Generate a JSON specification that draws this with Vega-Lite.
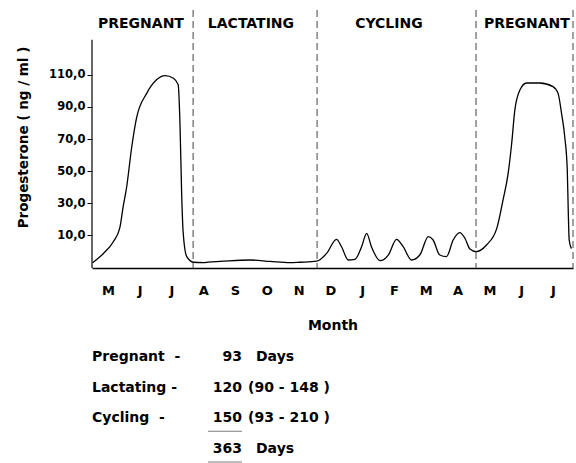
{
  "$schema": "https://vega.github.io/schema/vega-lite/v6.json",
  "width": 481,
  "height": 258,
  "autosize": {"type": "none"},
  "padding": {"left": 92, "top": 10, "right": 3, "bottom": 195},
  "background": "white",
  "config": {"view": {"stroke": null}, "font": "DejaVu Sans", "axisX": {"labelOverlap": false}},
  "datasets": {
    "curve": [
      {"t": 0.02, "v": -7.3}, {"t": 0.36, "v": -1.5}, {"t": 0.67, "v": 5.8}, {"t": 0.88, "v": 15},
      {"t": 0.98, "v": 27.7}, {"t": 1.09, "v": 40}, {"t": 1.25, "v": 65}, {"t": 1.4, "v": 83},
      {"t": 1.72, "v": 98.5}, {"t": 2.03, "v": 107}, {"t": 2.3, "v": 109.6}, {"t": 2.56, "v": 108},
      {"t": 2.71, "v": 104}, {"t": 2.77, "v": 77.7}, {"t": 2.82, "v": 36}, {"t": 2.87, "v": 11},
      {"t": 2.98, "v": -3.5}, {"t": 3.19, "v": -7}, {"t": 3.5, "v": -7.3}, {"t": 3.66, "v": -6.9},
      {"t": 4.03, "v": -6.5}, {"t": 4.97, "v": -5.6}, {"t": 5.6, "v": -6.5}, {"t": 6.23, "v": -7.3},
      {"t": 6.54, "v": -7.0}, {"t": 7.07, "v": -6.3}, {"t": 7.38, "v": -1.5}, {"t": 7.69, "v": 7.3},
      {"t": 7.85, "v": 2.7}, {"t": 8.06, "v": -5.6}, {"t": 8.27, "v": -5.2}, {"t": 8.48, "v": 2.7},
      {"t": 8.64, "v": 11}, {"t": 8.79, "v": 2.7}, {"t": 9.06, "v": -6}, {"t": 9.32, "v": -2.5},
      {"t": 9.58, "v": 7.3}, {"t": 9.79, "v": 2.7}, {"t": 10.05, "v": -5.6}, {"t": 10.31, "v": -2.5},
      {"t": 10.58, "v": 9}, {"t": 10.73, "v": 6.9}, {"t": 10.94, "v": -2.5}, {"t": 11.15, "v": -3.5},
      {"t": 11.36, "v": 6.9}, {"t": 11.57, "v": 11.5}, {"t": 11.73, "v": 8}, {"t": 11.89, "v": 1.2},
      {"t": 12.08, "v": -0.4}, {"t": 12.41, "v": 3.8}, {"t": 12.73, "v": 14}, {"t": 12.93, "v": 32},
      {"t": 13.09, "v": 48.5}, {"t": 13.2, "v": 67}, {"t": 13.3, "v": 88}, {"t": 13.46, "v": 100.6},
      {"t": 13.67, "v": 105}, {"t": 14.09, "v": 105}, {"t": 14.5, "v": 102.7}, {"t": 14.66, "v": 98.5},
      {"t": 14.77, "v": 86}, {"t": 14.87, "v": 71.4}, {"t": 14.95, "v": 50.6}, {"t": 14.98, "v": 25.6},
      {"t": 15.01, "v": 6.9}, {"t": 15.08, "v": 1.5}
    ],
    "phases": [
      {"phase": "PREGNANT", "end": 3.18, "mid": 1.54},
      {"phase": "LACTATING", "end": 7.08, "mid": 5.0},
      {"phase": "CYCLING", "end": 12.08, "mid": 9.34},
      {"phase": "PREGNANT", "end": 15.13, "mid": 13.68}
    ],
    "summary": [
      {"row": "Pregnant", "label": "Pregnant\u00a0 -", "value": "93", "note": "Days", "noteKind": "unit", "underline": false},
      {"row": "Lactating", "label": "Lactating -", "value": "120", "note": "(90 - 148 )", "noteKind": "range", "underline": false},
      {"row": "Cycling", "label": "Cycling\u00a0 -", "value": "150", "note": "(93 - 210 )", "noteKind": "range", "underline": true},
      {"row": "Total", "label": "", "value": "363", "note": "Days", "noteKind": "unit", "underline": true}
    ]
  },
  "layer": [
    {
      "layer": [
        {
          "data": {"name": "curve"},
          "mark": {"type": "line", "color": "black", "strokeWidth": 1.3, "interpolate": "monotone"},
          "encoding": {
            "x": {
              "field": "t", "type": "quantitative",
              "scale": {"domain": [0, 15.13], "nice": false, "zero": false},
              "axis": {
                "values": [0.5, 1.5, 2.5, 3.5, 4.5, 5.5, 6.5, 7.5, 8.5, 9.5, 10.5, 11.5, 12.5, 13.5, 14.5],
                "tickCount": 30,
                "labelExpr": "['M','J','J','A','S','O','N','D','J','F','M','A','M','J','J'][floor(datum.value)]",
                "labelOverlap": false,
                "ticks": false, "grid": false, "domain": true, "domainColor": "black", "domainWidth": 1.3,
                "labelFontSize": 13, "labelFontWeight": "bold", "labelColor": "black", "labelPadding": 16,
                "title": "Month", "titleFontSize": 14, "titleFontWeight": "bold", "titleColor": "black", "titlePadding": 21
              }
            },
            "y": {
              "field": "v", "type": "quantitative",
              "scale": {"domain": [-10.6, 150.6], "nice": false, "zero": false},
              "axis": {
                "values": [10, 30, 50, 70, 90, 110],
                "labelExpr": "replace(format(datum.value, '.1f'), '.', ',')",
                "domain": false, "grid": false, "tickSize": 5, "tickColor": "black", "tickWidth": 1,
                "labelFontSize": 11.5, "labelFontWeight": "bold", "labelColor": "black", "labelPadding": 2,
                "title": "Progesterone  ( ng / ml )", "titleFontSize": 13.5, "titleFontWeight": "bold", "titleColor": "black",
                "titleX": -69, "titleY": 127, "titleAngle": -90, "titleAlign": "center", "titleBaseline": "middle"
              }
            }
          }
        },
        {
          "data": {"values": [{}]},
          "mark": {"type": "rule", "color": "black", "strokeWidth": 1.2},
          "encoding": {
            "x": {"datum": 0, "type": "quantitative"},
            "y": {"datum": -10.6, "type": "quantitative"},
            "y2": {"datum": 132}
          }
        },
        {
          "data": {"name": "phases"},
          "mark": {"type": "rule", "color": "#444", "strokeWidth": 1, "strokeDash": [7, 4]},
          "encoding": {
            "x": {"field": "end", "type": "quantitative"}
          }
        },
        {
          "data": {"name": "phases"},
          "mark": {"type": "text", "fontSize": 14, "fontWeight": "bold", "color": "black", "baseline": "middle", "align": "center"},
          "encoding": {
            "x": {"field": "mid", "type": "quantitative"},
            "y": {"datum": 142, "type": "quantitative"},
            "text": {"field": "phase"}
          }
        }
      ]
    },
    {
      "data": {"name": "summary"},
      "layer": [
        {
          "mark": {"type": "text", "align": "left", "baseline": "middle", "fontSize": 14, "fontWeight": "bold", "color": "black"},
          "encoding": {
            "x": {"datum": "label", "type": "nominal", "scale": {"type": "point", "domain": ["label", "value"], "range": [0, 150], "padding": 0}, "axis": null},
            "y": {"field": "row", "type": "nominal", "scale": {"type": "point", "domain": ["Pregnant", "Lactating", "Cycling", "Total"], "range": [347, 439], "padding": 0}, "axis": null},
            "text": {"field": "label"}
          }
        },
        {
          "mark": {"type": "text", "align": "right", "baseline": "middle", "fontSize": 14, "fontWeight": "bold", "color": "black"},
          "encoding": {
            "x": {"datum": "value", "type": "nominal"},
            "y": {"field": "row", "type": "nominal"},
            "text": {"field": "value"}
          }
        },
        {
          "transform": [{"filter": "datum.noteKind === 'range'"}],
          "mark": {"type": "text", "align": "left", "baseline": "middle", "fontSize": 14, "fontWeight": "bold", "color": "black", "dx": 6},
          "encoding": {
            "x": {"datum": "value", "type": "nominal"},
            "y": {"field": "row", "type": "nominal"},
            "text": {"field": "note"}
          }
        },
        {
          "transform": [{"filter": "datum.noteKind === 'unit'"}],
          "mark": {"type": "text", "align": "left", "baseline": "middle", "fontSize": 14, "fontWeight": "bold", "color": "black", "dx": 14},
          "encoding": {
            "x": {"datum": "value", "type": "nominal"},
            "y": {"field": "row", "type": "nominal"},
            "text": {"field": "note"}
          }
        },
        {
          "transform": [{"filter": "datum.underline"}],
          "mark": {"type": "tick", "orient": "horizontal", "size": 34, "thickness": 1, "color": "#444", "xOffset": -17, "yOffset": 13},
          "encoding": {
            "x": {"datum": "value", "type": "nominal"},
            "y": {"field": "row", "type": "nominal"}
          }
        }
      ]
    }
  ],
  "resolve": {"scale": {"x": "independent", "y": "independent"}}
}
